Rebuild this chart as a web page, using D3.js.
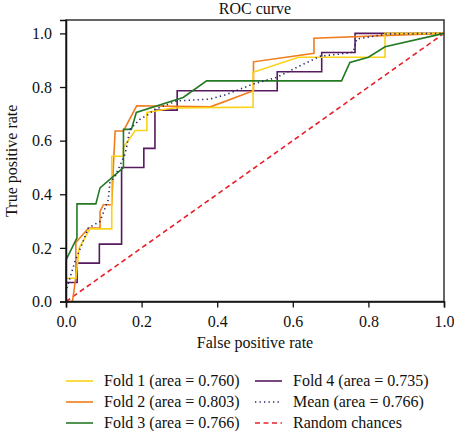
<!DOCTYPE html>
<html><head><meta charset="utf-8">
<script src="https://cdn.jsdelivr.net/npm/d3@7"></script>
<style>body{margin:0;background:#fff}svg{display:block}text{font-family:"Liberation Serif","DejaVu Serif",serif;fill:#111}</style>
</head><body><svg id="c" width="454" height="431"></svg>
<script>
const fold1 = [[0,0],[0,0.087],[0.026,0.087],[0.035,0.2],[0.063,0.271],[0.121,0.271],[0.121,0.542],[0.134,0.542],[0.152,0.542],[0.152,0.574],[0.183,0.638],[0.214,0.638],[0.214,0.705],[0.283,0.722],[0.495,0.725],[0.495,0.855],[0.615,0.911],[0.844,0.911],[0.844,1],[1,1]];
const fold2 = [[0,0],[0.017,0],[0.026,0.09],[0.026,0.22],[0.06,0.274],[0.09,0.274],[0.09,0.336],[0.099,0.361],[0.121,0.361],[0.126,0.524],[0.13,0.636],[0.152,0.636],[0.187,0.73],[0.382,0.726],[0.496,0.786],[0.496,0.894],[0.656,0.926],[0.656,0.982],[1,1]];
const fold3 = [[0,0],[0,0.155],[0.029,0.237],[0.029,0.364],[0.079,0.364],[0.09,0.424],[0.152,0.499],[0.152,0.642],[0.173,0.642],[0.186,0.705],[0.31,0.761],[0.372,0.823],[0.729,0.823],[0.751,0.892],[0.8,0.911],[0.844,0.95],[1,1]];
const fold4 = [[0,0],[0,0.071],[1/34,0.071],[1/34,0.143],[3/34,0.143],[3/34,0.214],[5/34,0.214],[5/34,0.5],[7/34,0.5],[7/34,0.571],[8/34,0.571],[8/34,0.714],[10/34,0.714],[10/34,0.786],[19/34,0.786],[19/34,0.857],[23/34,0.857],[23/34,0.929],[26/34,0.929],[26/34,1],[1,1]];
const meanCurve = [[0,0],[0,0.04],[0.025,0.155],[0.04,0.205],[0.059,0.274],[0.09,0.299],[0.112,0.38],[0.116,0.443],[0.13,0.467],[0.156,0.549],[0.16,0.574],[0.169,0.642],[0.196,0.68],[0.218,0.698],[0.235,0.717],[0.293,0.748],[0.38,0.755],[0.42,0.77],[0.495,0.811],[0.557,0.836],[0.61,0.873],[0.672,0.915],[0.725,0.923],[0.76,0.93],[0.769,0.979],[0.85,0.998],[1,1]];
const chance = [[0,0],[1,1]];
const tickValues = [0,0.2,0.4,0.6,0.8,1.0];
const legendLabels = ["Fold 1 (area = 0.760)","Fold 2 (area = 0.803)","Fold 3 (area = 0.766)","Fold 4 (area = 0.735)","Mean (area = 0.766)","Random chances"];

const series = [
  {data:fold1,color:"#fcd116",dash:null},
  {data:fold2,color:"#f07c1c",dash:null},
  {data:fold3,color:"#237a23",dash:null},
  {data:fold4,color:"#57195f",dash:null},
  {data:meanCurve,color:"#24246e",dash:"1.3,3.2"},
  {data:chance,color:"#e8202a",dash:"5,3.5"}
];
const drawOrder = [5,3,1,0,2,4];

const L=66,R=444,T=20,B=301.5;
const svg=d3.select("#c");
const x=d3.scaleLinear().domain([0,1]).range([L,R]);
const y=d3.scaleLinear().domain([0,1.05]).range([B,T]);
const line=d3.line().x(d=>x(d[0])).y(d=>y(d[1]));

drawOrder.forEach(i=>{
  const s=series[i];
  svg.append("path").attr("d",line(s.data)).attr("fill","none")
    .attr("stroke",s.color).attr("stroke-width",1.6)
    .attr("stroke-dasharray",s.dash).attr("stroke-linejoin","miter");
});

svg.append("rect").attr("x",L).attr("y",T).attr("width",R-L).attr("height",B-T)
  .attr("fill","none").attr("stroke","#333").attr("stroke-width",1.5);

const fmt=d3.format(".1f");
const xa=svg.append("g").attr("transform",`translate(0,${B})`)
  .call(d3.axisBottom(x).tickValues(tickValues).tickFormat(fmt).tickSize(6).tickPadding(8));
const ya=svg.append("g").attr("transform",`translate(${L},0)`)
  .call(d3.axisLeft(y).tickValues(tickValues).tickFormat(fmt).tickSize(6).tickPadding(8));
[xa,ya].forEach(a=>{
  a.select(".domain").attr("stroke","#111").attr("stroke-width",1.5);
  a.selectAll(".tick line").attr("stroke","#111").attr("stroke-width",1.3);
  a.selectAll(".tick text").attr("font-size",16).attr("font-family","Liberation Serif").attr("fill","#111");
});

svg.append("text").attr("x",(L+R)/2).attr("y",14).attr("text-anchor","middle").attr("font-size",16).text("ROC curve");
svg.append("text").attr("x",(L+R)/2).attr("y",348).attr("text-anchor","middle").attr("font-size",16).text("False positive rate");
svg.append("text").attr("transform",`translate(17,${(T+B)/2}) rotate(-90)`).attr("text-anchor","middle").attr("font-size",16).text("True positive rate");

const cols=[[66,104],[255,293]];
const rows=[381,402,423];
legendLabels.forEach((lab,i)=>{
  const c=cols[Math.floor(i/3)], r=rows[i%3], s=series[i];
  svg.append("line").attr("x1",c[0]).attr("x2",c[0]+27).attr("y1",r).attr("y2",r)
    .attr("stroke",s.color).attr("stroke-width",1.6).attr("stroke-dasharray",s.dash);
  svg.append("text").attr("x",c[1]).attr("y",r).attr("dy","0.33em").attr("font-size",16).text(lab);
});
</script></body></html>
